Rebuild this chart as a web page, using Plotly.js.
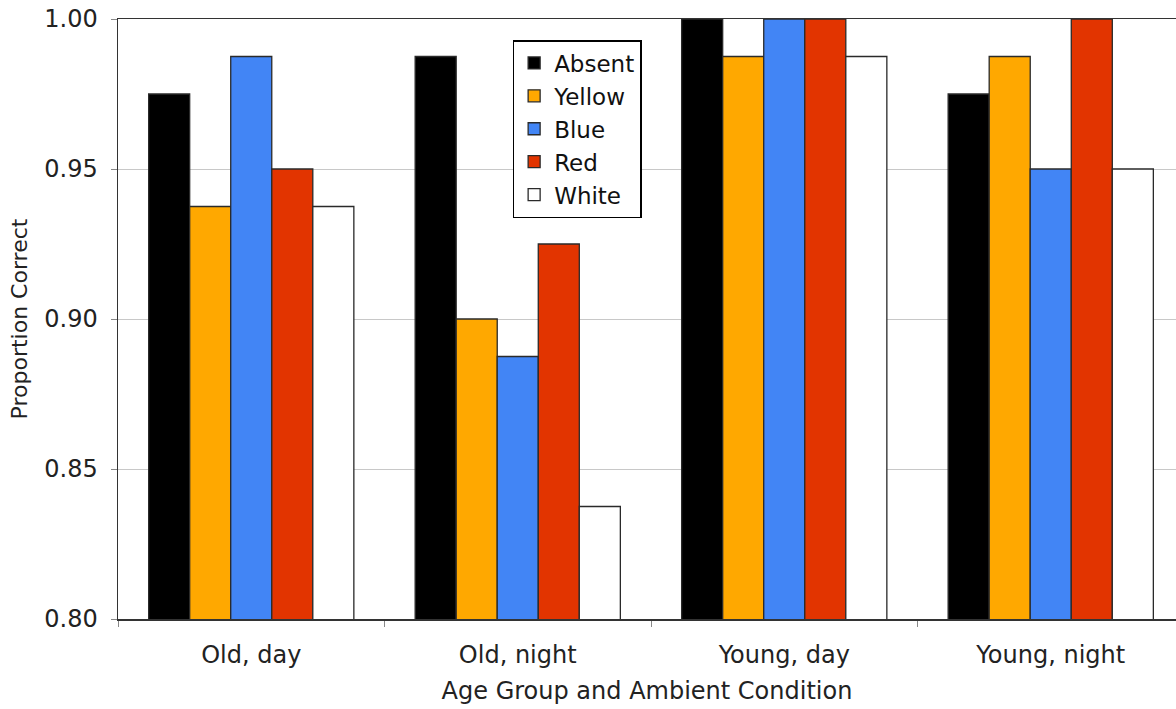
<!DOCTYPE html>
<html>
<head>
<meta charset="utf-8">
<script src="https://cdn.plot.ly/plotly-3.0.1.min.js"></script>
<style>html,body{margin:0;padding:0;overflow:hidden;background:#fff}</style>
</head>
<body>
<div id="chart" style="width:1176px;height:709px"></div>
<script>
const categories = ["Old, day", "Old, night", "Young, day", "Young, night"];
const seriesNames = ["Absent", "Yellow", "Blue", "Red", "White"];
const absent = [0.975, 0.9875, 1.0, 0.975];
const yellow = [0.9375, 0.90, 0.9875, 0.9875];
const blue = [0.9875, 0.8875, 1.0, 0.95];
const red = [0.95, 0.925, 1.0, 1.0];
const white = [0.9375, 0.8375, 0.9875, 0.95];
const yTicks = [0.80, 0.85, 0.90, 0.95, 1.00];
const yTickText = ["0.80", "0.85", "0.90", "0.95", "1.00"];

const colors = ["#000000", "#FFA800", "#4285F5", "#E23400", "#FFFFFF"];
const values = [absent, yellow, blue, red, white];

const traces = values.map((v, i) => ({
  type: "bar",
  name: seriesNames[i],
  x: categories,
  y: v,
  legendgroup: "g" + i,
  marker: {color: colors[i], line: {color: "#2a2a2a", width: 1.3}}
}));

const fam = "DejaVu Sans, Verdana, sans-serif";

const layout = {
  width: 1176, height: 709,
  margin: {l: 118, r: 0, t: 19, b: 90},
  paper_bgcolor: "#ffffff", plot_bgcolor: "#ffffff",
  font: {family: fam, size: 24, color: "#222"},
  barmode: "group",
  bargap: 0.23,
  bargroupgap: 0,
  showlegend: true,
  legend: {
    x: 0.373, y: 0.965, xanchor: "left", yanchor: "top",
    bgcolor: "#ffffff", bordercolor: "#000000", borderwidth: 1.5,
    font: {family: fam, size: 23, color: "#111"},
    tracegroupgap: 3,
    traceorder: "normal"
  },
  xaxis: {
    type: "category",
    range: [-0.5, 3.47],
    tickson: "boundaries",
    ticks: "outside", ticklen: 6, tickcolor: "#888",
    ticklabelstandoff: 14,
    showline: true, linecolor: "#333", linewidth: 1.5,
    mirror: true,
    showgrid: false,
    tickfont: {family: fam, size: 24, color: "#222"},
    title: {text: "Age Group and Ambient Condition", font: {family: fam, size: 24, color: "#222"}, standoff: 14}
  },
  yaxis: {
    range: [0.8, 1.0],
    tickvals: yTicks,
    ticktext: yTickText,
    ticks: "outside", ticklen: 6, tickcolor: "#888",
    ticklabelstandoff: 8,
    showline: true, linecolor: "#333", linewidth: 1.5,
    showgrid: true, gridcolor: "#c8c8c8", gridwidth: 1,
    zeroline: false,
    tickfont: {family: fam, size: 24, color: "#222"},
    title: {text: "Proportion Correct", font: {family: fam, size: 22, color: "#222"}, standoff: 10}
  }
};

Plotly.newPlot("chart", traces, layout, {displayModeBar: false, staticPlot: true});
</script>
</body>
</html>
